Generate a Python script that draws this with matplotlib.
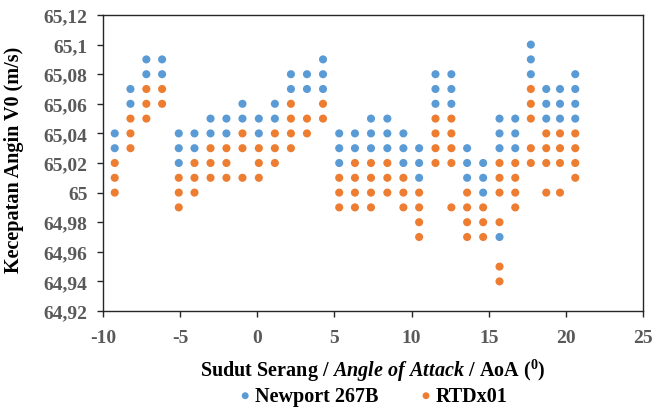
import matplotlib
matplotlib.use("Agg")
import matplotlib.pyplot as plt
import numpy as np

# AoA column positions
aoa = [-9.24, -8.22, -7.19, -6.17, -5.09, -4.07, -3.03, -2.00, -0.96, 0.10,
       1.14, 2.18, 3.22, 4.26, 5.31, 6.33, 7.37, 8.43, 9.47, 10.49,
       11.55, 12.58, 13.60, 14.64, 15.70, 16.72, 17.73, 18.73, 19.62, 20.61]

newport = [
    [65.04, 65.03],
    [65.07, 65.06],
    [65.09, 65.08],
    [65.09, 65.08],
    [65.04, 65.03, 65.02],
    [65.04, 65.03],
    [65.05, 65.04],
    [65.05, 65.04],
    [65.06, 65.05],
    [65.05, 65.04],
    [65.06, 65.05],
    [65.08, 65.07],
    [65.08, 65.07],
    [65.09, 65.08, 65.07],
    [65.04, 65.03, 65.02],
    [65.04, 65.03],
    [65.05, 65.04, 65.03],
    [65.05, 65.04, 65.03],
    [65.04, 65.03, 65.02],
    [65.03, 65.02, 65.01],
    [65.08, 65.07, 65.06],
    [65.08, 65.07, 65.06],
    [65.03, 65.02, 65.01],
    [65.02, 65.01, 65.00],
    [65.05, 65.04, 65.03, 64.97],
    [65.05, 65.04, 65.03],
    [65.10, 65.09, 65.08],
    [65.07, 65.06, 65.05],
    [65.07, 65.06, 65.05],
    [65.08, 65.07, 65.06, 65.05],
]

rtd = [
    [65.02, 65.01, 65.00],
    [65.05, 65.04, 65.03],
    [65.07, 65.06, 65.05],
    [65.07, 65.06],
    [65.01, 65.00, 64.99],
    [65.02, 65.01, 65.00],
    [65.03, 65.02, 65.01],
    [65.03, 65.02, 65.01],
    [65.04, 65.03, 65.01],
    [65.03, 65.02, 65.01],
    [65.04, 65.03, 65.02],
    [65.06, 65.05, 65.04, 65.03],
    [65.05, 65.04],
    [65.06, 65.05],
    [65.01, 65.00, 64.99],
    [65.02, 65.01, 65.00, 64.99],
    [65.02, 65.01, 65.00, 64.99],
    [65.02, 65.01, 65.00],
    [65.01, 65.00, 64.99],
    [65.00, 64.99, 64.98, 64.97],
    [65.05, 65.04, 65.03, 65.02],
    [65.05, 65.04, 65.03, 65.02, 64.99],
    [65.00, 64.99, 64.98, 64.97],
    [64.99, 64.98, 64.97],
    [65.02, 65.01, 65.00, 64.98, 64.95, 64.94],
    [65.02, 65.01, 65.00, 64.99],
    [65.07, 65.06, 65.05, 65.03, 65.02],
    [65.04, 65.03, 65.02, 65.00],
    [65.04, 65.03, 65.02, 65.00],
    [65.04, 65.03, 65.02, 65.01],
]

series_names = ["Newport 267B", "RTDx01"]
yticks = [64.92, 64.94, 64.96, 64.98, 65.00, 65.02, 65.04, 65.06, 65.08, 65.10, 65.12]
ytick_labels = ["64,92", "64,94", "64,96", "64,98", "65", "65,02", "65,04", "65,06", "65,08", "65,1", "65,12"]
xticks = [-10, -5, 0, 5, 10, 15, 20, 25]

plt.rcParams['font.family'] = ['Liberation Serif', 'DejaVu Serif']
plt.rcParams['font.weight'] = 'bold'
plt.rcParams['mathtext.fontset'] = 'custom'
plt.rcParams['mathtext.rm'] = 'Liberation Serif:bold'
plt.rcParams['mathtext.bf'] = 'Liberation Serif:bold'
plt.rcParams['mathtext.it'] = 'Liberation Serif:bold:italic'

fig = plt.figure(figsize=(6.52, 4.10), dpi=100)
ax = fig.add_axes([103/652, 1-312/410, 540/652, 296/410])

def flatten(xs, groups):
    px, py = [], []
    for x, g in zip(xs, groups):
        for v in g:
            px.append(x)
            py.append(v)
    return px, py

bx, by = flatten(aoa, newport)
ox, oy = flatten(aoa, rtd)
ax.scatter(bx, by, s=34, color='#5B9BD5', edgecolors='none', label=series_names[0], zorder=3)
ax.scatter(ox, oy, s=34, color='#ED7D31', edgecolors='none', label=series_names[1], zorder=4)

ax.set_xlim(-10, 25)
ax.set_ylim(64.92, 65.12)
ax.set_xticks(xticks)
ax.set_xticklabels([str(t) for t in xticks])
ax.set_yticks(yticks)
ax.set_yticklabels(ytick_labels)

for s in ax.spines.values():
    s.set_color('#262626')
    s.set_linewidth(1.0)
ax.tick_params(axis='both', direction='out', length=4, width=1.0, color='#262626',
               labelsize=14, labelcolor='#595959', pad=7)
ax.tick_params(axis='x', pad=9)
for lab in ax.get_xticklabels() + ax.get_yticklabels():
    lab.set_fontweight('bold')

ax.set_xlabel(r'$\mathrm{Sudut\ Serang\ /\ }\mathit{Angle\ of\ Attack}\mathrm{\ /\ AoA\ (^{0})}$',
              fontsize=14.5, color='black', labelpad=8)
ax.set_ylabel('Kecepatan Angin V0 (m/s)', fontsize=14.5, fontweight='bold', color='black')
ax.yaxis.set_label_coords(-0.146, 0.514)

fig.legend(loc='center', bbox_to_anchor=(374/652, 1-397/410), ncol=2, frameon=False,
           prop={'family': 'Liberation Serif', 'weight': 'bold', 'size': 14.5},
           handlelength=0.5, handletextpad=0.25, columnspacing=2.1,
           markerscale=0.85, scatterpoints=1, borderpad=0.1)

fig.savefig('out.png', dpi=100)
